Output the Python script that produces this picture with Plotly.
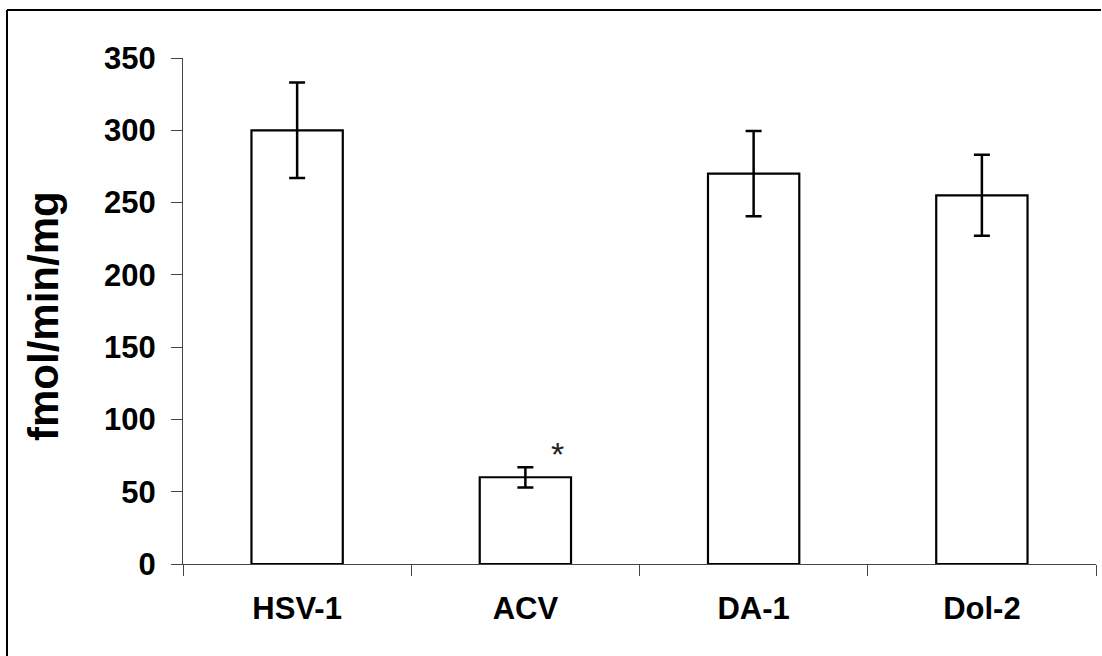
import plotly.graph_objects as go

categories = ["HSV-1", "ACV", "DA-1", "Dol-2"]
values = [300, 60, 270, 255]
errors = [33, 7, 29.5, 28]
star_value = 75
y_title = "fmol/min/mg"

W, H = 1102, 656
L, R, T, B = 183, 6, 58, 92
pw, ph = W - L - R, H - T - B

def px_to_paper_x(px):
    return (px - L) / pw

def py_to_paper_y(py):
    return (H - B - py) / ph

fig = go.Figure()
fig.add_trace(go.Bar(
    x=categories, y=values, width=0.4,
    marker=dict(color="white", line=dict(color="black", width=2.2)),
    error_y=dict(type="data", array=errors, visible=True,
                 color="black", thickness=2.5, width=8),
    showlegend=False,
))

fig.add_annotation(x="ACV", y=star_value, text="*", showarrow=False,
                   xshift=32, yshift=2,
                   font=dict(family="Liberation Sans, Arial", size=34, color="#222"))

fig.add_annotation(xref="paper", yref="paper", x=px_to_paper_x(44), y=py_to_paper_y(316),
                   text=y_title, textangle=-90, showarrow=False,
                   xanchor="center", yanchor="middle",
                   font=dict(family="Liberation Sans, Arial, sans-serif", size=42,
                             color="black", weight="bold"))

# outer frame: top and left edges (right/bottom lie outside the picture)
fig.add_shape(type="line", xref="paper", yref="paper",
              x0=px_to_paper_x(7), x1=px_to_paper_x(1101),
              y0=py_to_paper_y(10), y1=py_to_paper_y(10),
              line=dict(color="black", width=2))
fig.add_shape(type="line", xref="paper", yref="paper",
              x0=px_to_paper_x(7), x1=px_to_paper_x(7),
              y0=py_to_paper_y(10), y1=py_to_paper_y(656),
              line=dict(color="black", width=2))

font_tick = dict(family="Liberation Sans, Arial, sans-serif", size=31, color="black", weight="bold")

fig.update_layout(
    width=W, height=H,
    margin=dict(l=L, r=R, t=T, b=B, pad=0),
    paper_bgcolor="white", plot_bgcolor="white",
    bargap=0.6,
    xaxis=dict(
        type="category", range=[-0.5, 3.5],
        showline=True, linecolor="#444", linewidth=1,
        ticks="outside", tickson="boundaries", ticklen=11, tickcolor="#444", tickwidth=1,
        tickfont=font_tick, showgrid=False, zeroline=False,
        ticklabelstandoff=17,
    ),
    yaxis=dict(
        range=[0, 350], dtick=50, tick0=0,
        showline=True, linecolor="#444", linewidth=1, mirror=False,
        ticks="outside", ticklen=11, tickcolor="#444", tickwidth=1,
        tickfont=font_tick, showgrid=False, zeroline=False,
        ticklabelstandoff=9,
    ),
)

fig.write_html("out.html", config={"displayModeBar": False})
